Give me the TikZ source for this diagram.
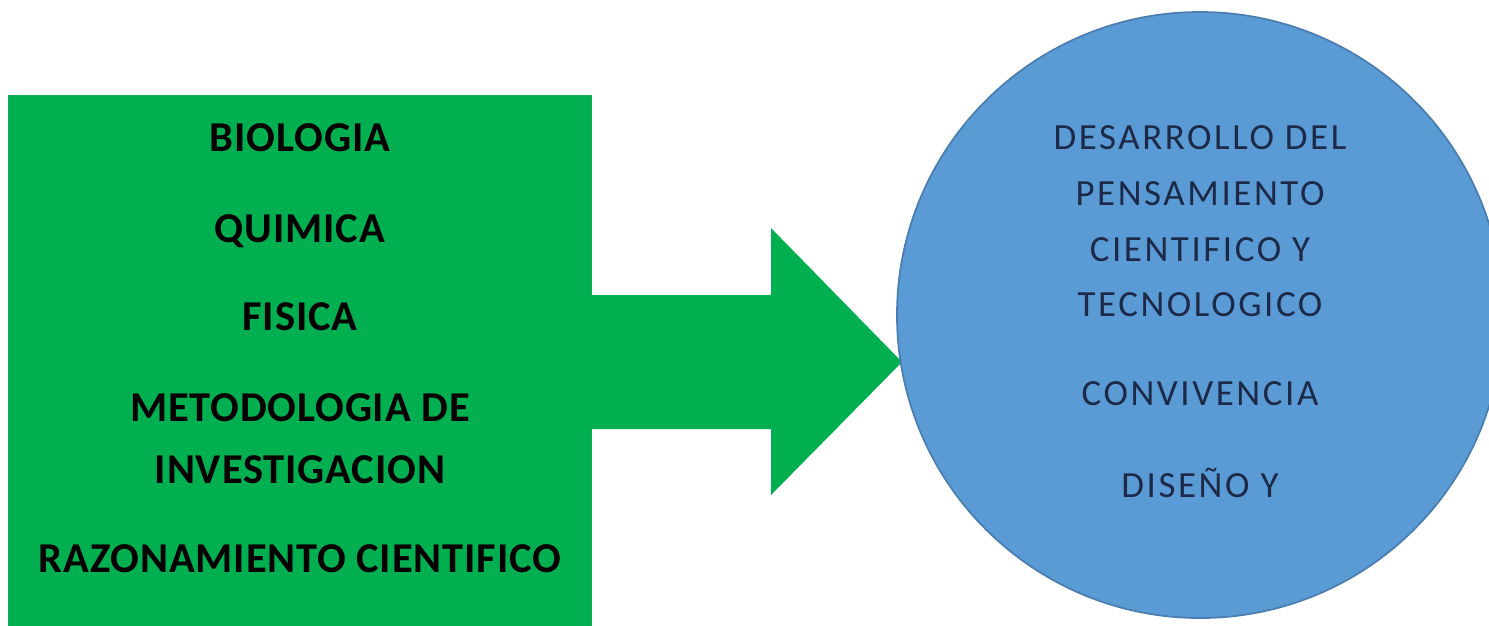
\documentclass[tikz,border=0pt]{standalone}
\usepackage{fontspec}
\setmainfont{Carlito}
\newfontfamily\boxfont[LetterSpace=2]{Carlito}
\newfontfamily\goalfont[LetterSpace=7]{Carlito}
\usetikzlibrary{positioning,calc}
\definecolor{boxgreen}{HTML}{00B050}
\definecolor{goalblue}{HTML}{5B9BD5}
\definecolor{goaledge}{HTML}{4A7EB0}
\definecolor{goaltext}{HTML}{1C2A48}

\begin{document}
\begin{tikzpicture}[
        subject/.style={font=\boxfont\bfseries\fontsize{12.1}{14}\selectfont, text=black, inner sep=0pt, anchor=base},
        goal/.style={font=\goalfont\fontsize{10.5}{12}\selectfont, text=goaltext, inner sep=0pt, anchor=base}
    ]
        \useasboundingbox (0,0) rectangle (14.89,-6.25);

        % green block and the big arrow
        \node[fill=boxgreen, draw=boxgreen!85!gray, line width=0.4pt, minimum width=5.83cm, minimum height=5.4cm, anchor=north west, inner sep=0pt] (box) at (0.08,-0.95) {};
        \coordinate (tip) at (9.02,-3.62);
        \fill[boxgreen] ([xshift=-1pt]box.east |- 0,-2.95) -- (7.71,-2.95) -- (7.71,-2.28) -- (tip)
            -- (7.71,-4.95) -- (7.71,-4.29) -- ([xshift=-1pt]box.east |- 0,-4.29) -- cycle;

        % blue circle
        \node[circle, fill=goalblue, draw=goaledge, line width=0.5pt, minimum size=6.06cm, inner sep=0pt] (goals) at (12.0,-3.15) {};

        % subjects
        \node[subject] (bio) at (3.0,-1.51) {BIOLOGIA};
        \node[subject] (quim) at (3.0,-2.42) {QUIMICA};
        \node[subject] (fis) at (3.0,-3.30) {FISICA};
        \node[subject] (metod) at (3.0,-4.21) {METODOLOGIA DE};
        \node[subject] (invest) at (3.0,-4.83) {INVESTIGACION};
        \node[subject] (razon) at (3.0,-5.72) {RAZONAMIENTO CIENTIFICO};

        % goals
        \node[goal] (desarr) at (12.0,-1.495) {DESARROLLO DEL};
        \node[goal] (pens) at (12.0,-2.05) {PENSAMIENTO};
        \node[goal] (cient) at (12.0,-2.61) {CIENTIFICO Y};
        \node[goal] (tecno) at (12.0,-3.16) {TECNOLOGICO};
        \node[goal] (conviv) at (12.0,-4.05) {CONVIVENCIA};
        \node[goal] (diseno) at (12.0,-4.97) {DISEÑO Y};
    \end{tikzpicture}
\end{document}
